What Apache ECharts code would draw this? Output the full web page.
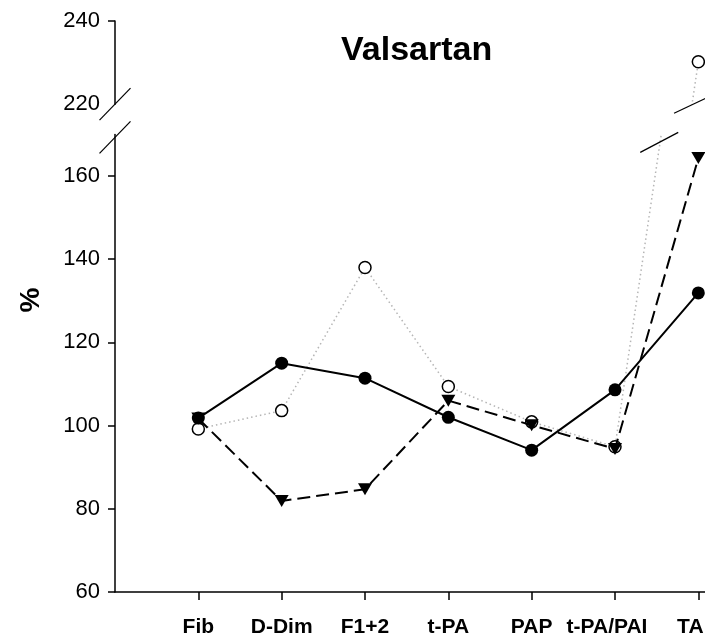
<!DOCTYPE html>
<html>
<head>
<meta charset="utf-8">
<script src="https://cdn.jsdelivr.net/npm/echarts@6/dist/echarts.min.js"></script>
<style>
html,body{margin:0;padding:0;background:#fff;overflow:hidden;}
#chart{width:705px;height:638px;}
</style>
</head>
<body>
<div id="chart"></div>
<script>
// ---- data ----
const categories = ['Fib', 'D-Dim', 'F1+2', 't-PA', 'PAP', 't-PA/PAI', 'TA'];
const solidCircles = [101.8, 115.0, 111.4, 102.0, 94.1, 108.6, 131.9];
const dashedTriangles = [101.7, 81.9, 84.7, 106.0, 100.1, 94.4, 164.3];
const dottedOpenCircles = [99.2, 103.6, 138.0, 109.4, 100.9, 94.9, 230.2];
const lowerTicks = [60, 80, 100, 120, 140, 160];
const upperTicks = [240];
const upperLabels = [220, 240];
const lowerRange = [60, 170];
const upperRange = [220, 240];
const title = 'Valsartan';
const yName = '%';

const FONT = 'Liberation Sans, Arial, sans-serif';
const xPos = categories.map((c, i) => i + 1);
const toXY = arr => arr.map((v, i) => [xPos[i], v]);
const xMax = 7.08;

const chart = echarts.init(document.getElementById('chart'), null, {renderer: 'canvas'});

function seriesFor(gridIdx) {
  return [
    {
      type: 'line', xAxisIndex: gridIdx, yAxisIndex: gridIdx,
      data: toXY(dottedOpenCircles), clip: true, z: 2,
      symbol: 'circle', symbolSize: 12,
      itemStyle: {color: '#fff', borderColor: '#000', borderWidth: 1.5},
      lineStyle: {color: '#b5b5b5', width: 1.5, type: [1.5, 3]},
      animation: false
    },
    {
      type: 'line', xAxisIndex: gridIdx, yAxisIndex: gridIdx,
      data: toXY(solidCircles), clip: true, z: 3,
      symbol: 'circle', symbolSize: 13,
      itemStyle: {color: '#000'},
      lineStyle: {color: '#000', width: 2},
      animation: false
    },
    {
      type: 'line', xAxisIndex: gridIdx, yAxisIndex: gridIdx,
      data: toXY(dashedTriangles), clip: true, z: 4,
      symbol: 'triangle', symbolRotate: 180, symbolSize: [14, 12],
      itemStyle: {color: '#000'},
      lineStyle: {color: '#000', width: 2, type: [13, 6]},
      animation: false
    }
  ];
}

const axisText = {color: '#000', fontSize: 22, fontFamily: FONT};
const catLabelStyle = {color: '#000', fontSize: 21, fontWeight: 'bold', fontFamily: FONT};

const option = {
  animation: false,
  backgroundColor: '#fff',
  title: {
    text: title, left: 336, top: 29,
    textStyle: {fontSize: 34, fontWeight: 'bold', fontFamily: FONT, color: '#000'}
  },
  grid: [
    {left: 115, right: 0, top: 21, height: 83.2, outerBoundsMode: 'none', containLabel: false},
    {left: 115, right: 0, top: 134.4, bottom: 46, outerBoundsMode: 'none', containLabel: false}
  ],
  xAxis: [
    {type: 'value', gridIndex: 0, min: 0, max: xMax, show: false},
    {
      type: 'value', gridIndex: 1, min: 0, max: xMax, interval: 1,
      axisLine: {show: true, onZero: false, lineStyle: {color: '#000', width: 1.5}},
      axisTick: {show: true, customValues: xPos, length: 8, lineStyle: {color: '#000', width: 1.5}},
      axisLabel: Object.assign({
        customValues: xPos, margin: 25, hideOverlap: false,
        formatter: v => {
          const i = Math.round(v) - 1;
          const t = categories[i] || '';
          return i >= categories.length - 2 ? '{s|' + t + '}' : t;
        },
        rich: {s: Object.assign({padding: [0, 16, 0, 0]}, catLabelStyle)}
      }, catLabelStyle),
      splitLine: {show: false}
    }
  ],
  yAxis: [
    {
      type: 'value', gridIndex: 0, min: upperRange[0], max: upperRange[1], interval: 20,
      axisLine: {show: true, lineStyle: {color: '#000', width: 1.5}},
      axisTick: {show: true, customValues: upperTicks, length: 7, lineStyle: {color: '#000', width: 1.5}},
      axisLabel: Object.assign({customValues: upperLabels, margin: 15}, axisText),
      splitLine: {show: false}
    },
    {
      type: 'value', gridIndex: 1, min: lowerRange[0], max: lowerRange[1], interval: 10,
      axisLine: {show: true, lineStyle: {color: '#000', width: 1.5}},
      axisTick: {show: true, customValues: lowerTicks, length: 7, lineStyle: {color: '#000', width: 1.5}},
      axisLabel: Object.assign({customValues: lowerTicks, margin: 15}, axisText),
      splitLine: {show: false}
    }
  ],
  series: seriesFor(0).concat(seriesFor(1))
};
chart.setOption(option);

// break marks and y-axis name
function px(gridIdx, x, y) {
  return chart.convertToPixel({xAxisIndex: gridIdx, yAxisIndex: gridIdx}, [x, y]);
}
// crossing of the dotted series between last two points with a given value
function crossX(val) {
  const n = dottedOpenCircles.length;
  const y0 = dottedOpenCircles[n - 2], y1 = dottedOpenCircles[n - 1];
  return xPos[n - 2] + (val - y0) / (y1 - y0) * (xPos[n - 1] - xPos[n - 2]);
}
const upBottom = px(0, 0, upperRange[0]);
const lowTop = px(1, 0, lowerRange[1]);
const rUp = px(0, crossX(upperRange[0]), upperRange[0]);
const rLow = px(1, crossX(lowerRange[1]), lowerRange[1]);
function slash(c, dx, dy) {
  return {
    type: 'line', z: 100,
    shape: {x1: c[0] - dx, y1: c[1] + dy, x2: c[0] + dx, y2: c[1] - dy},
    style: {stroke: '#000', lineWidth: 1.2}
  };
}
chart.setOption({
  graphic: [
    slash([upBottom[0], upBottom[1]], 15.5, 16),
    slash([lowTop[0], lowTop[1] + 3], 15.5, 16),
    slash([rUp[0] - 1, rUp[1] + 1], 17, 8),
    slash([rLow[0] - 2, rLow[1] + 8], 19, 10),
    {
      type: 'text', x: 31, y: 300, rotation: Math.PI / 2, z: 100,
      style: {text: yName, fontSize: 28, fontWeight: 'bold', fontFamily: FONT, fill: '#000',
              align: 'center', verticalAlign: 'middle'}
    }
  ]
});
</script>
</body>
</html>
